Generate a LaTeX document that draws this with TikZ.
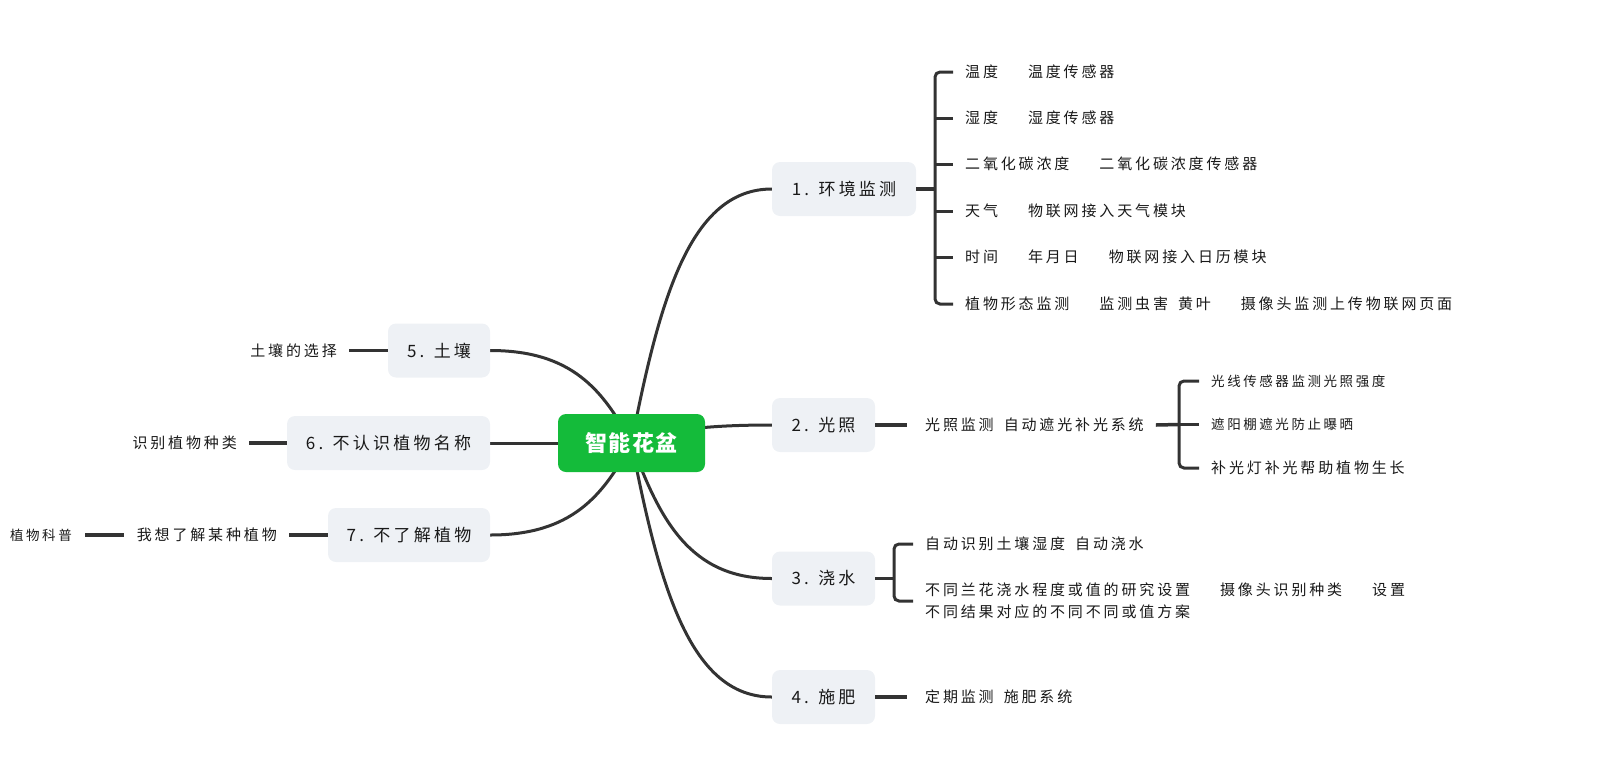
\documentclass[tikz,border=0pt]{standalone}
\usepackage{fontspec}
\setmainfont{Noto Sans CJK SC}
\newfontfamily\cjk{Noto Sans CJK SC}[LetterSpace=19]
\newfontfamily\cjkroot{Noto Sans CJK SC}[LetterSpace=6]
\usetikzlibrary{calc,backgrounds}
\definecolor{rootgreen}{RGB}{20,187,58}
\definecolor{boxgray}{RGB}{238,241,245}
\definecolor{linec}{RGB}{51,51,51}
\definecolor{txt}{RGB}{25,25,25}
\newcommand\mmgs{\hspace{10pt}}
\newcommand\mmgl{\hspace{30pt}}
\newcommand\mmcurve[2]{%
  \draw[curve] let \p0=(#1), \p3=(#2) in
    (\p0) .. controls ({\x0+0.2*(\x3-\x0)},{\y0+0.57*(\y3-\y0)}) and ({\x0+0.42*(\x3-\x0)},{\y3}) .. (\p3);}
\tikzset{
  root/.style={fill=rootgreen, rounded corners=8pt, text=white,
    font=\cjkroot\bfseries\fontsize{22}{26}\selectfont,
    minimum height=58pt, inner sep=0pt},
  mainbox/.style={fill=boxgray, rounded corners=8pt, text=txt,
    font=\cjk\fontsize{17}{20}\selectfont, minimum height=54pt, inner sep=0pt},
  leaf/.style={font=\cjk\fontsize{15}{22}\selectfont, inner sep=0pt, text=txt, align=left},
  smallleaf/.style={font=\cjk\fontsize{13.5}{18}\selectfont, inner sep=0pt, text=txt},
  curve/.style={draw=linec, line width=3pt},
  conn/.style={draw=linec, line width=3.5pt},
  bracket/.style={draw=linec, line width=3pt, rounded corners=5pt}
}
\begin{document}
\begin{tikzpicture}[x=1pt,y=-1pt]
\useasboundingbox (0,0) rectangle (1621,769);

% root and main branches
\node[root, minimum width=147pt] (root) at (631.5,443) {智能花盆};
\node[mainbox, minimum width=144pt] (b1) at (844,189) {1. 环境监测};
\node[mainbox, minimum width=103pt] (b2) at (823.5,425) {2. 光照};
\node[mainbox, minimum width=103pt] (b3) at (823.5,578.5) {3. 浇水};
\node[mainbox, minimum width=103pt] (b4) at (823.5,697) {4. 施肥};
\node[mainbox, minimum width=102pt] (b5) at (439,350.5) {5. 土壤};
\node[mainbox, minimum width=203pt] (b6) at (388.5,443) {6. 不认识植物名称};
\node[mainbox, minimum width=162pt] (b7) at (409,535) {7. 不了解植物};

\begin{pgfonlayer}{background}
\mmcurve{root.center}{b1.west}
\mmcurve{root.center}{b2.west}
\mmcurve{root.center}{b3.west}
\mmcurve{root.center}{b4.west}
\mmcurve{root.center}{b5.east}
\mmcurve{root.center}{b6.east}
\mmcurve{root.center}{b7.east}
\end{pgfonlayer}

% branch 1
\coordinate (k1) at (935,189);
\node[leaf, anchor=west] (c11) at (965,72) {温度\mmgl 温度传感器};
\node[leaf, anchor=west] (c12) at (965,118) {湿度\mmgl 湿度传感器};
\node[leaf, anchor=west] (c13) at (965,164) {二氧化碳浓度\mmgl 二氧化碳浓度传感器};
\node[leaf, anchor=west] (c14) at (965,211) {天气\mmgl 物联网接入天气模块};
\node[leaf, anchor=west] (c15) at (965,257) {时间\mmgl 年月日\mmgl 物联网接入日历模块};
\node[leaf, anchor=west] (c16) at (965,304) {植物形态监测\mmgl 监测虫害\mmgs 黄叶\mmgl 摄像头监测上传物联网页面};
\draw[conn] (b1.east) -- (k1);
\draw[bracket] ([xshift=-12pt]c11.west) -| (k1) |- ([xshift=-12pt]c16.west);
\foreach \c in {c12,c13,c14,c15} \draw[bracket] (k1 |- \c.west) -- ([xshift=-12pt]\c.west);

% branch 2
\node[leaf, anchor=west] (t2) at (925,425) {光照监测\mmgs 自动遮光补光系统};
\coordinate (k2) at (1179,424.5);
\node[smallleaf, anchor=west] (c21) at (1211,381) {光线传感器监测光照强度};
\node[smallleaf, anchor=west] (c22) at (1211,424.5) {遮阳棚遮光防止曝晒};
\node[leaf, anchor=west] (c23) at (1211,468) {补光灯补光帮助植物生长};
\draw[conn] (b2.east) -- ([xshift=-18pt]t2.west);
\draw[conn] ([xshift=12pt]t2.east) -- (k2);
\draw[bracket] ([xshift=-12pt]c21.west) -| (k2) |- ([xshift=-12pt]c23.west);
\draw[bracket] (k2) -- ([xshift=-12pt]c22.west);

% branch 3
\coordinate (k3) at (894,578.5);
\node[leaf, anchor=west] (c31) at (925,544) {自动识别土壤湿度\mmgs 自动浇水};
\node[leaf, anchor=west] (c32) at (925,601) {不同兰花浇水程度或值的研究设置\mmgl 摄像头识别种类\mmgl 设置\\不同结果对应的不同不同或值方案};
\draw[conn] (b3.east) -- (k3);
\draw[bracket] ([xshift=-12pt]c31.west) -| (k3) |- ([xshift=-12pt]c32.west);

% branch 4
\node[leaf, anchor=west] (t4) at (925,697) {定期监测\mmgs 施肥系统};
\draw[conn] (b4.east) -- ([xshift=-18pt]t4.west);

% left branches
\node[leaf, anchor=east] (t5) at (337,350.5) {土壤的选择};
\draw[conn] (b5.west) -- ([xshift=12pt]t5.east);
\node[leaf, anchor=east] (t6) at (237,443) {识别植物种类};
\draw[conn] (b6.west) -- ([xshift=12pt]t6.east);
\node[leaf, anchor=east] (t7) at (277,535) {我想了解某种植物};
\draw[conn] (b7.west) -- ([xshift=12pt]t7.east);
\node[smallleaf, anchor=east] (t7b) at (72,535) {植物科普};
\draw[conn] ([xshift=-13pt]t7.west) -- ([xshift=13pt]t7b.east);
\end{tikzpicture}
\end{document}
